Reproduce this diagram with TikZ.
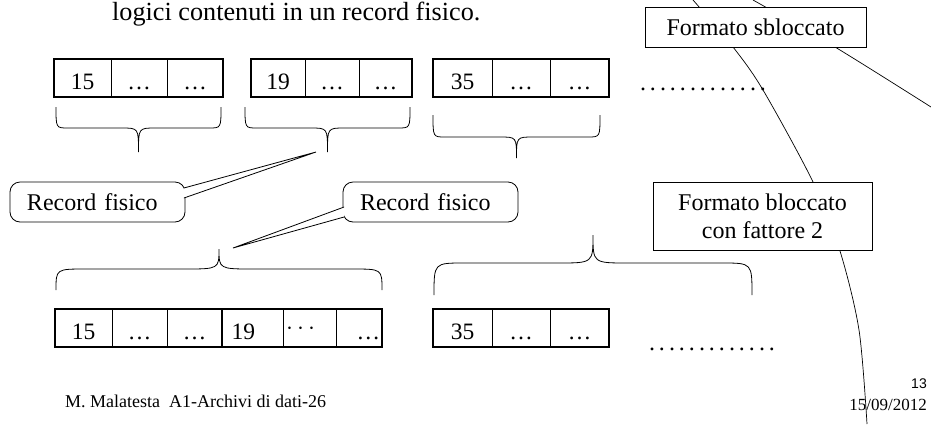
\documentclass[tikz,border=0pt]{standalone}
\usepackage{fontspec}
\setmainfont{Liberation Serif}
\newfontfamily\arial{Liberation Sans}
\tikzset{
  cell/.style={draw, line width=0.8pt, minimum width=#1, minimum height=37pt, inner sep=2pt, text height=27pt, text depth=4pt, font=\fontsize{23.5}{23.5}\selectfont},
  cell/.default=56pt,
  frame/.style={line width=2pt},
  label box/.style={draw, fill=white, line width=0.8pt, align=center, inner sep=0pt, font=\fontsize{24}{28}\selectfont},
  callout/.style={draw, fill=white, rounded corners=10pt, line width=0.8pt, minimum width=175pt, minimum height=40pt, text width=141pt, align=left, font=\fontsize{24}{24}\selectfont},
  brace line/.style={line width=0.8pt},
  arc line/.style={line width=0.7pt},
}
\newcommand{\puntini}{\hbox to 130pt{\xleaders\hbox to 10pt{\hss.\hss}\hfill}}
\newcommand{\graffa}[7]{%
  \draw[brace line] (#1,#3) .. controls (#1,#4) .. ({#1+#6},#4)
    -- ({(#1+#2)/2-#7},#4) .. controls ({(#1+#2)/2},#4) .. ({(#1+#2)/2},#5)
    .. controls ({(#1+#2)/2},#4) .. ({(#1+#2)/2+#7},#4)
    -- ({#2-#6},#4) .. controls (#2,#4) .. (#2,#3);}

\begin{document}
\begin{tikzpicture}[x=1pt,y=-1pt]
  \useasboundingbox (0,0) rectangle (931,424);

  \draw[arc line] plot[smooth] coordinates {(693,0) (733,47) (763,90) (813,182) (840,251) (859,330) (867,424)};
  \draw[arc line] plot[smooth] coordinates {(753,0) (835,47) (931,107)};

  \node[anchor=base west, inner sep=0pt, font=\fontsize{26.2}{26.2}\selectfont] (titolo) at (112,20) {logici contenuti in un record fisico.};

  \node[cell=57pt] (r1a) at (82.5,78) {15};
  \node[cell=56pt] (r1b) at (139,78) {…};
  \node[cell=56pt] (r1c) at (195,78) {…};
  \node[cell=54pt] (r2a) at (278,78) {19};
  \node[cell=54pt] (r2b) at (332,78) {…};
  \node[cell=53pt] (r2c) at (385.5,78) {…};
  \node[cell=59pt] (r3a) at (462.5,78) {35};
  \node[cell=58pt] (r3b) at (521,78) {…};
  \node[cell=59pt] (r3c) at (579.5,78) {…};
  \draw[frame] (r1a.north west) rectangle (r1c.south east);
  \draw[frame] (r2a.north west) rectangle (r2c.south east);
  \draw[frame] (r3a.north west) rectangle (r3c.south east);
  \node[anchor=base, inner sep=0pt, font=\fontsize{24}{24}\selectfont] (dots1) at (703,90) {\puntini};

  \graffa{56}{221}{107}{128}{152}{12}{17}
  \graffa{245}{410}{107}{128}{152}{12}{17}
  \graffa{433}{600}{115}{137}{158}{12}{17}

  \node[label box, minimum width=221pt, minimum height=40pt] (sblocc) at (755.5,27) {Formato sbloccato};
  \node[label box, minimum width=219pt, minimum height=68pt] (blocc) at (762.5,216) {Formato bloccato\\con fattore 2};

  \node[callout] (rf1) at (97.5,202) {Record fisico};
  \node[callout] (rf2) at (430.5,202) {Record fisico};
  \coordinate (p1) at (316,152);
  \coordinate (p2) at (233,248);
  \draw[line width=0.8pt, fill=white] ([xshift=-1.5pt, yshift=14pt]rf1.east) -- (p1) -- ([xshift=-1.5pt, yshift=4pt]rf1.east);
  \draw[line width=0.8pt, fill=white] ([xshift=1.5pt, yshift=-5pt]rf2.west) -- (p2) -- ([xshift=1.5pt, yshift=-15pt]rf2.west);

  \graffa{56}{382}{290}{269}{249}{30}{35}
  \graffa{434}{752}{295}{263}{235}{30}{35}

  \node[cell=57pt] (b1a) at (83.5,328) {15};
  \node[cell=55pt] (b1b) at (139.5,328) {…};
  \node[cell=55pt] (b1c) at (194.5,328) {…};
  \node[cell=61pt, text width=42pt, align=left] (b1d) at (252.5,328) {19};
  \node[cell=53pt, text width=47pt, align=left] (b1e) at (309.5,328) {\raisebox{5pt}{$\cdots$}};
  \node[cell=46pt, text width=42pt, align=right] (b1f) at (359,328) {…};
  \node[cell=59pt] (b3a) at (462.5,328) {35};
  \node[cell=58pt] (b3b) at (521,328) {…};
  \node[cell=59pt] (b3c) at (579.5,328) {…};
  \draw[frame] (b1a.north west) rectangle (b1f.south east);
  \draw[frame] (b1c.north east) -- (b1c.south east);
  \draw[frame] (b3a.north west) rectangle (b3c.south east);
  \node[anchor=base, inner sep=0pt, font=\fontsize{24}{24}\selectfont] (dots2) at (712,350) {\puntini};

  \node[anchor=base west, inner sep=0pt, font=\fontsize{18}{18}\selectfont] (autore) at (65,407) {M. Malatesta\ \ A1-Archivi di dati-26};
  \node[anchor=base east, inner sep=0pt, font=\arial\fontsize{14}{14}\selectfont] (pagina) at (927,388) {13};
  \node[anchor=base east, inner sep=0pt, font=\fontsize{17}{17}\selectfont] (data) at (927,410) {15/09/2012};
\end{tikzpicture}
\end{document}
